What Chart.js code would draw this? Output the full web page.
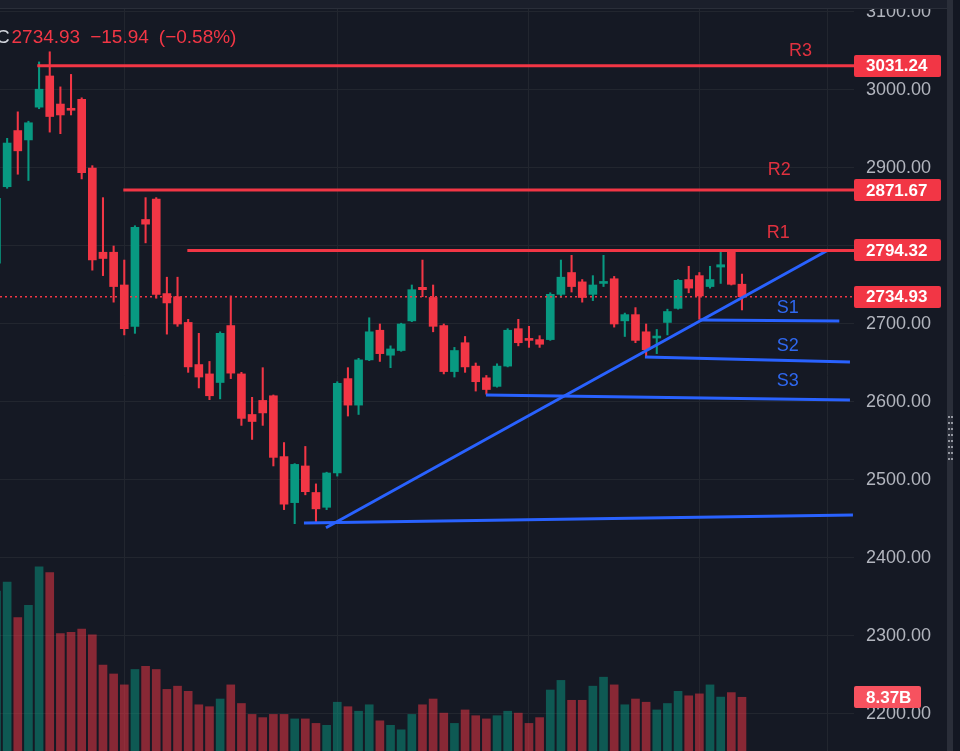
<!DOCTYPE html>
<html>
<head>
<meta charset="utf-8">
<script src="https://cdn.jsdelivr.net/npm/chart.js@4.4.1/dist/chart.umd.min.js"></script>
<style>
  html, body { margin: 0; padding: 0; background: #151924; }
  #wrap { width: 960px; height: 751px; position: relative; }
</style>
</head>
<body>
<div id="wrap"><canvas id="chart"></canvas></div>
<script>
// daily candles, oldest first
const opens = [2778, 2876, 2948, 2936, 2978, 3018, 2982, 2976, 2988, 2900,
  2792, 2792, 2750, 2697, 2834, 2860, 2739, 2735, 2702, 2648,
  2636, 2625, 2698, 2636, 2584, 2602, 2608, 2530, 2471, 2518,
  2484, 2465, 2509, 2630, 2596, 2654, 2692, 2660, 2666, 2704,
  2747, 2734, 2698, 2639, 2676, 2646, 2631, 2620, 2646, 2694,
  2680, 2680, 2680, 2738, 2766, 2754, 2738, 2752, 2758, 2704,
  2712, 2690, 2682, 2702, 2720, 2757, 2762, 2748, 2773, 2793, 2751];
const highs = [2870, 2938, 2972, 2960, 3036, 3049, 3004, 3020, 2990, 2903,
  2862, 2800, 2782, 2826, 2862, 2862, 2760, 2760, 2706, 2688,
  2652, 2690, 2736, 2638, 2606, 2644, 2609, 2548, 2521, 2543,
  2495, 2510, 2626, 2644, 2656, 2708, 2700, 2672, 2701, 2750,
  2782, 2750, 2700, 2670, 2684, 2650, 2634, 2649, 2694, 2706,
  2697, 2685, 2740, 2782, 2788, 2757, 2762, 2788, 2761, 2714,
  2721, 2700, 2693, 2719, 2757, 2774, 2766, 2774, 2793, 2794, 2764];
const lows = [2770, 2874, 2892, 2884, 2976, 2946, 2944, 2968, 2886, 2769,
  2762, 2728, 2686, 2688, 2804, 2733, 2687, 2697, 2638, 2618,
  2603, 2604, 2630, 2570, 2552, 2570, 2518, 2462, 2444, 2481,
  2444, 2462, 2505, 2582, 2584, 2653, 2652, 2644, 2665, 2703,
  2735, 2690, 2636, 2632, 2638, 2614, 2610, 2619, 2645, 2672,
  2670, 2670, 2679, 2734, 2741, 2728, 2730, 2748, 2696, 2684,
  2676, 2658, 2662, 2686, 2719, 2740, 2706, 2746, 2752, 2750, 2718];
const closes = [2861, 2932, 2922, 2958, 3001, 2966, 2968, 2974, 2894, 2782,
  2784, 2748, 2694, 2824, 2828, 2738, 2727, 2700, 2645, 2632,
  2608, 2688, 2637, 2579, 2575, 2586, 2529, 2469, 2520, 2485,
  2463, 2509, 2624, 2596, 2654, 2690, 2662, 2668, 2700, 2744,
  2744, 2697, 2639, 2666, 2645, 2626, 2616, 2646, 2692, 2676,
  2679, 2674, 2738, 2760, 2748, 2734, 2750, 2754, 2700, 2712,
  2679, 2667, 2684, 2716, 2756, 2746, 2736, 2757, 2776, 2750.87, 2734.93];
// volume in billions
const volumes = [24.9, 26.3, 20.8, 22.7, 28.7, 27.8, 18.3, 18.5, 19.0, 18.1,
  13.4, 12.0, 10.3, 12.7, 13.2, 12.7, 9.6, 10.1, 9.3, 7.2,
  6.9, 8.1, 10.3, 7.4, 5.7, 5.2, 5.7, 5.7, 5.0, 5.0,
  4.3, 4.0, 7.6, 6.9, 6.2, 7.2, 4.7, 4.0, 3.3, 5.7,
  7.2, 8.1, 5.9, 4.3, 6.4, 5.5, 5.0, 5.5, 6.2, 5.9,
  4.3, 5.2, 9.5, 11.0, 7.9, 7.9, 10.1, 11.5, 10.3, 7.2,
  8.1, 7.6, 6.4, 7.4, 9.3, 8.6, 8.9, 10.3, 8.4, 9.1, 8.37];
// month boundaries (candle index) for vertical grid
const gridDays = [12, 32, 50, 66, 78];

// resistance levels R1..R3 and the candle where each line starts
const rNames = ['R1', 'R2', 'R3'];
const rLevels = [2794.32, 2871.67, 3031.24];
const rStart = [17.92, 11.91, 3.83];
const rTextAt = [[73.4, 2817], [73.5, 2897], [75.5, 3050]];

// drawn support / trend lines: [x1, y1, x2, y2]
const sNames = ['S1', 'S2', 'S3'];
const sLines = [[66.06, 2705.1, 79.14, 2703.8],
                [60.89, 2657.7, 80.14, 2651.3],
                [45.96, 2609.0, 80.14, 2602.6]];
const sTextAt = [[74.3, 2720], [74.3, 2672], [74.3, 2627]];
const baseLine = [28.87, 2444.9, 80.42, 2455.1];
const trendLine = [30.94, 2438.8, 78.1, 2794.9];

const X_MIN = 0.33, X_MAX = 80.52;
const UP = '#089981', DOWN = '#f23645', BLUE = '#2962ff';

const idx = opens.map((_, i) => i);
const isUp = i => closes[i] >= opens[i];
const last = closes[closes.length - 1];
const tagLevels = rLevels.concat([last]);

Chart.defaults.font.family = "'Liberation Sans', Arial, sans-serif";

function seg(a, color, width) {
  return {
    type: 'line',
    data: [{x: a[0], y: a[1]}, {x: a[2], y: a[3]}],
    borderColor: color, borderWidth: width,
    pointRadius: 0, order: 1, yAxisID: 'y'
  };
}

const datasets = [
  {
    type: 'bar', yAxisID: 'vol', order: 10, grouped: false,
    data: idx.map(i => ({x: i, y: volumes[i]})),
    backgroundColor: idx.map(i => isUp(i) ? 'rgba(8,153,129,0.5)' : 'rgba(242,54,69,0.52)'),
    barThickness: 8
  },
  {
    type: 'bar', yAxisID: 'y', order: 5, grouped: false,
    data: idx.map(i => ({x: i, y: [lows[i], highs[i]]})),
    backgroundColor: idx.map(i => isUp(i) ? UP : DOWN),
    barThickness: 1.4
  },
  {
    type: 'bar', yAxisID: 'y', order: 4, grouped: false,
    data: idx.map(i => ({x: i, y: [opens[i], closes[i]]})),
    backgroundColor: idx.map(i => isUp(i) ? UP : DOWN),
    barThickness: 8, minBarLength: 2
  }
];
rLevels.forEach((lv, k) => datasets.push(seg([rStart[k], lv, X_MAX, lv], DOWN, 3)));
sLines.forEach(l => datasets.push(seg(l, BLUE, 3)));
datasets.push(seg(baseLine, BLUE, 3));
datasets.push(seg(trendLine, BLUE, 3));
const priceLine = seg([X_MIN, last, X_MAX, last], DOWN, 1.5);
priceLine.borderDash = [2, 3];
datasets.push(priceLine);

const overlay = {
  id: 'overlay',
  beforeDraw(chart) {
    const c = chart.ctx;
    c.save();
    c.fillStyle = '#151924';
    c.fillRect(0, 0, chart.width, chart.height);
    c.restore();
  },
  afterDraw(chart) {
    const c = chart.ctx, xs = chart.scales.x, ys = chart.scales.y, vs = chart.scales.vol;
    c.save();
    c.textBaseline = 'middle';

    // level names
    c.font = "18px 'Liberation Sans', Arial, sans-serif";
    c.textAlign = 'center';
    c.fillStyle = '#e0313f';
    rNames.forEach((n, k) => c.fillText(n, xs.getPixelForValue(rTextAt[k][0]), ys.getPixelForValue(rTextAt[k][1])));
    c.fillStyle = '#2f68f0';
    sNames.forEach((n, k) => c.fillText(n, xs.getPixelForValue(sTextAt[k][0]), ys.getPixelForValue(sTextAt[k][1])));

    // price tags on the axis
    const left = chart.chartArea.right;
    function tag(y, text, color, w) {
      c.fillStyle = color;
      c.beginPath();
      c.roundRect(left, Math.round(y) - 11, w, 22, 2);
      c.fill();
      c.fillStyle = '#ffffff';
      c.textAlign = 'left';
      c.font = "bold 17px 'Liberation Sans', Arial, sans-serif";
      c.fillText(text, left + 12, y + 1);
    }
    tagLevels.forEach(lv => tag(ys.getPixelForValue(lv), lv.toFixed(2), DOWN, 87));
    const lastVol = volumes[volumes.length - 1];
    tag(vs.getPixelForValue(lastVol), lastVol.toFixed(2) + 'B', '#f7525f', 67);

    // legend header
    const prev = closes[closes.length - 2];
    const chg = last - prev;
    const pct = chg / prev * 100;
    c.font = "19px 'Liberation Sans', Arial, sans-serif";
    c.textAlign = 'left';
    c.fillStyle = '#d1d4dc';
    c.fillText('C', -4, 38);
    c.fillStyle = '#f23645';
    const parts = [last.toFixed(2), '\u2212' + Math.abs(chg).toFixed(2), '(\u2212' + Math.abs(pct).toFixed(2) + '%)'];
    let x = 11.5;
    parts.forEach(p => { c.fillText(p, x, 38); x += c.measureText(p).width + 10; });

    // top band and right pane edge
    c.fillStyle = '#1b1f2b';
    c.fillRect(0, 0, chart.width, 8);
    c.fillStyle = '#2a2e39';
    c.fillRect(0, 8, chart.width, 1);
    c.fillRect(947, 0, 6, chart.height);
    c.fillStyle = '#131722';
    c.fillRect(953, 0, 7, chart.height);
    c.fillStyle = '#9598a1';
    for (let r = 0; r < 8; r++) {
      c.fillRect(948, 416 + r * 6, 2, 2);
      c.fillRect(951, 416 + r * 6, 2, 2);
    }
    c.restore();
  }
};

function noPad(s) {
  s.paddingTop = 0; s.paddingBottom = 0; s.paddingLeft = 0; s.paddingRight = 0;
}

new Chart(document.getElementById('chart'), {
  type: 'bar',
  data: { datasets },
  options: {
    responsive: true,
    maintainAspectRatio: false,
    animation: false,
    layout: { padding: 0, autoPadding: false },
    plugins: { legend: { display: false }, tooltip: { enabled: false } },
    scales: {
      x: {
        type: 'linear', min: X_MIN, max: X_MAX, offset: false,
        afterBuildTicks: s => { s.ticks = gridDays.map(v => ({value: v})); },
        afterFit: s => { s.height = 0; noPad(s); },
        ticks: { display: false },
        grid: { color: '#22262f', drawTicks: false, offset: false },
        border: { display: false }
      },
      y: {
        type: 'linear', position: 'right', min: 2152.56, max: 3115.38,
        afterFit: s => { s.width = 106; noPad(s); },
        ticks: {
          stepSize: 100, includeBounds: false, padding: 12,
          color: '#b2b5be', font: { size: 18 },
          // hide tick labels that sit under a price tag
          callback: v => tagLevels.some(lv => Math.abs(lv - v) < 15) ? '' : v.toFixed(2)
        },
        grid: { color: '#22262f', drawTicks: false },
        border: { display: false }
      },
      vol: {
        type: 'linear', display: false, min: 0, max: 117
      }
    }
  },
  plugins: [overlay]
});
</script>
</body>
</html>
